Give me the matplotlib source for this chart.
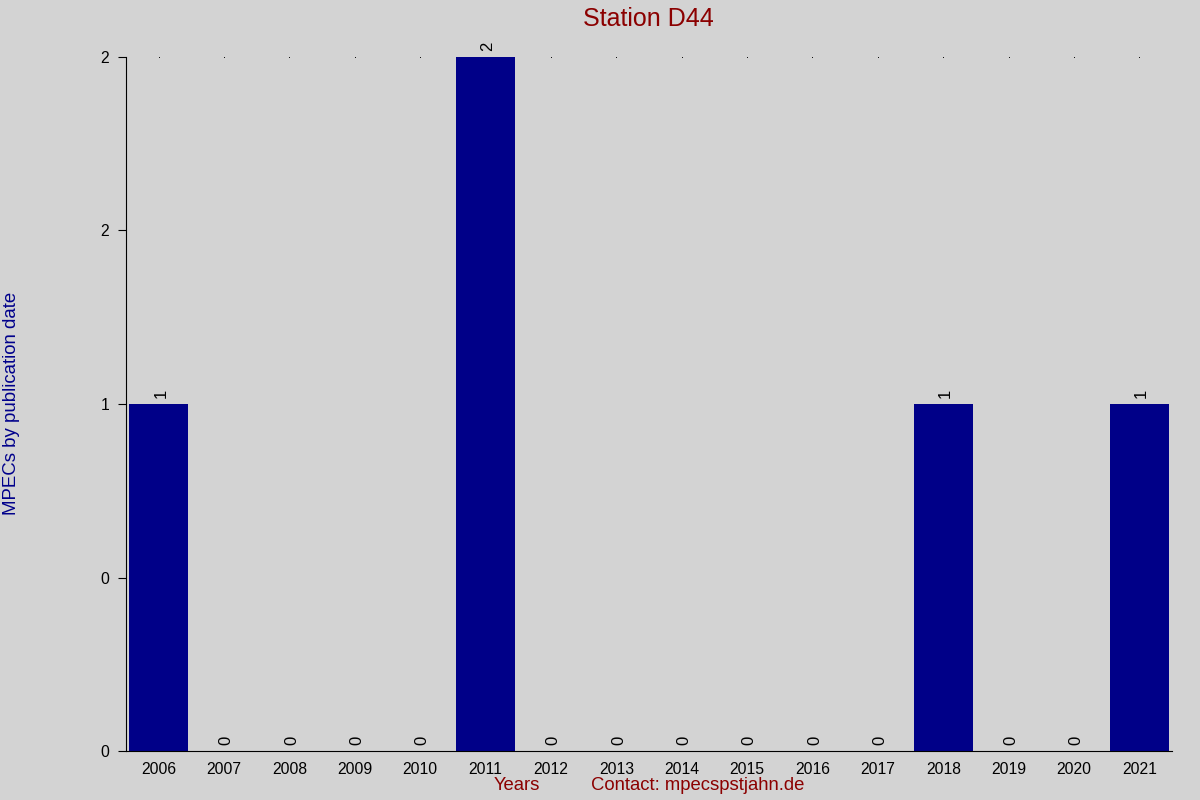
import matplotlib
matplotlib.use("Agg")
import matplotlib.pyplot as plt

years = ["2006", "2007", "2008", "2009", "2010", "2011", "2012", "2013",
         "2014", "2015", "2016", "2017", "2018", "2019", "2020", "2021"]
counts = [1, 0, 0, 0, 0, 2, 0, 0, 0, 0, 0, 0, 1, 0, 0, 1]
ytick_vals = [0, 0.5, 1, 1.5, 2]
ytick_labels = ["0", "0", "1", "2", "2"]

plt.rcParams['font.family'] = ['Liberation Sans', 'DejaVu Sans']
bg = "#D3D3D3"
fig = plt.figure(figsize=(12, 8), dpi=100, facecolor=bg)
ax = fig.add_axes([0.105, 0.06125, 0.8717, 0.8675], facecolor=bg)

x = list(range(len(years)))
ax.bar(x, counts, width=0.9, color="#000088", zorder=2)
ax.plot(x, [max(ytick_vals)] * len(x), linestyle="none", marker="s", ms=0.6,
        mew=0, color="black", zorder=1)

for xi, v in zip(x, counts):
    ax.annotate(str(v), (xi, v), xytext=(1.5, 4), textcoords="offset points",
                rotation=90, ha="center", va="bottom", fontsize=12,
                color="black", annotation_clip=False)

ax.set_xlim(-0.5, len(years) - 0.5)
ax.set_ylim(0, 2)
ax.set_xticks(x)
ax.set_xticklabels(years, fontsize=11.3)
ax.set_yticks(ytick_vals)
ax.set_yticklabels(ytick_labels, fontsize=11.3)
ax.tick_params(axis="x", length=0, pad=8)
ax.tick_params(axis="y", length=6, pad=6, direction="out")
ax.spines["top"].set_visible(False)
ax.spines["right"].set_visible(False)

fig.text(0.54, 0.976, "Station D44", ha="center", va="center",
         fontsize=18, color="#8B0000")
fig.text(0.0095, 0.496, "MPECs by publication date", rotation=90,
         ha="center", va="center", fontsize=13.4, color="#00008B")
fig.text(0.431, 0.0175, "Years", ha="center", va="center",
         fontsize=13.3, color="#8B0000")
fig.text(0.5817, 0.0175, "Contact: mpecspstjahn.de", ha="center", va="center",
         fontsize=13.3, color="#8B0000")

fig.savefig("out.png", dpi=100, facecolor=bg)
